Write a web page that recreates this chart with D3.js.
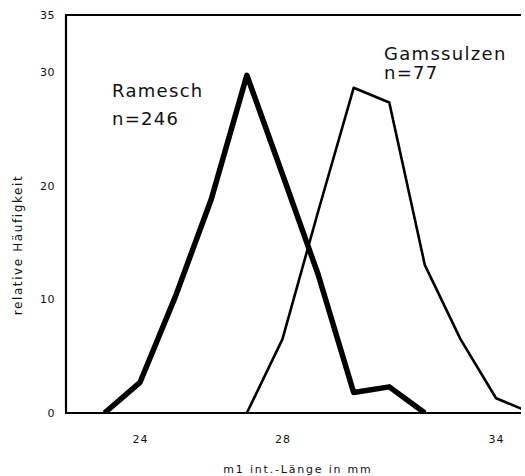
<!DOCTYPE html>
<html>
<head>
<meta charset="utf-8">
<script src="https://cdn.jsdelivr.net/npm/d3@7"></script>
<style>
body { margin: 0; background: #fff; }
text { font-family: "DejaVu Sans", sans-serif; fill: #111; }
</style>
</head>
<body>
<div id="chart"></div>
<script>
var width = 525, height = 476;
var plotLeft = 66, plotRight = 521, plotTop = 15, plotBottom = 413;

// Länge in mm (Klassen) und relative Häufigkeit in %
var rameschLen = [23, 24, 25, 26, 27, 28, 29, 30, 31, 32]
var rameschVal = [0, 2.7, 10.3, 18.8, 29.7, 21.0, 12.2, 1.8, 2.3, 0]

var gamsLen = [27, 28, 29, 30, 31, 32, 33, 34, 35]
var gamsVal = [0, 6.5, 17.7, 28.6, 27.3, 13.0, 6.5, 1.3, 0]

var xTicks = [24, 28, 34]
var yTicks = [0, 10, 20, 30, 35]

var svg = d3.select("#chart").append("svg")
    .attr("width", width)
    .attr("height", height);

var xScale = d3.scaleLinear().domain([21.92, 34.70]).range([plotLeft, plotRight]),
    yScale = d3.scaleLinear().domain([0, 35]).range([plotBottom, plotTop]);

svg.append("clipPath").attr("id", "plot")
    .append("rect")
    .attr("x", plotLeft).attr("y", plotTop - 5)
    .attr("width", plotRight - plotLeft).attr("height", plotBottom - plotTop + 5);

//Axis labels
var xAxis = svg.append("g")
    .attr("transform", "translate(0," + plotBottom + ")")
    .call(d3.axisBottom(xScale).tickValues(xTicks).tickSize(0).tickPadding(22).tickFormat(d3.format("d")));
xAxis.select(".domain").remove();
xAxis.selectAll("text")
    .style("font-size", "11px")
    .style("letter-spacing", "1px")
    .style("font-family", "DejaVu Sans");

var yAxis = svg.append("g")
    .attr("transform", "translate(" + plotLeft + ",0)")
    .call(d3.axisLeft(yScale).tickValues(yTicks).tickSize(0).tickPadding(11).tickFormat(d3.format("d")));
yAxis.select(".domain").remove();
yAxis.selectAll("text")
    .style("font-size", "11px")
    .style("letter-spacing", "0.5px")
    .style("font-family", "DejaVu Sans");

//Frame (left, top, bottom)
svg.append("path")
    .attr("d", "M" + plotRight + "," + plotTop + "H" + plotLeft + "V" + plotBottom + "H" + plotRight)
    .attr("fill", "none")
    .attr("stroke", "#000")
    .attr("stroke-width", 2.2);

//Lines
var line = d3.line()
    .x(d => xScale(d[0]))
    .y(d => yScale(d[1]));

svg.append("path")
    .datum(gamsLen.map((d, i) => [d, gamsVal[i]]))
    .attr("clip-path", "url(#plot)")
    .attr("d", line)
    .attr("fill", "none")
    .attr("stroke", "#000")
    .attr("stroke-width", 2.6)
    .attr("stroke-linejoin", "round");

svg.append("path")
    .datum(rameschLen.map((d, i) => [d, rameschVal[i]]))
    .attr("clip-path", "url(#plot)")
    .attr("d", line)
    .attr("fill", "none")
    .attr("stroke", "#000")
    .attr("stroke-width", 5.5)
    .attr("stroke-linejoin", "round");

//Series labels
var labels = [
    {t: "Ramesch", x: 112, y: 97},
    {t: "n=246", x: 112, y: 125},
    {t: "Gamssulzen", x: 384, y: 60},
    {t: "n=77", x: 384, y: 79}
]
svg.selectAll(".lab")
    .data(labels)
    .enter().append("text")
    .attr("class", "lab")
    .attr("x", d => d.x)
    .attr("y", d => d.y)
    .style("font-size", "18px")
    .style("letter-spacing", "1.3px")
    .text(d => d.t);

//Axis titles
svg.append("text")
    .attr("x", 298)
    .attr("y", 473)
    .attr("text-anchor", "middle")
    .style("font-size", "11px")
    .style("letter-spacing", "1.8px")
    .text("m1 int.-Länge in mm");

svg.append("text")
    .attr("transform", "translate(22,245) rotate(-90)")
    .attr("text-anchor", "middle")
    .style("font-size", "12px")
    .style("letter-spacing", "1.6px")
    .text("relative Häufigkeit");
</script>
</body>
</html>
